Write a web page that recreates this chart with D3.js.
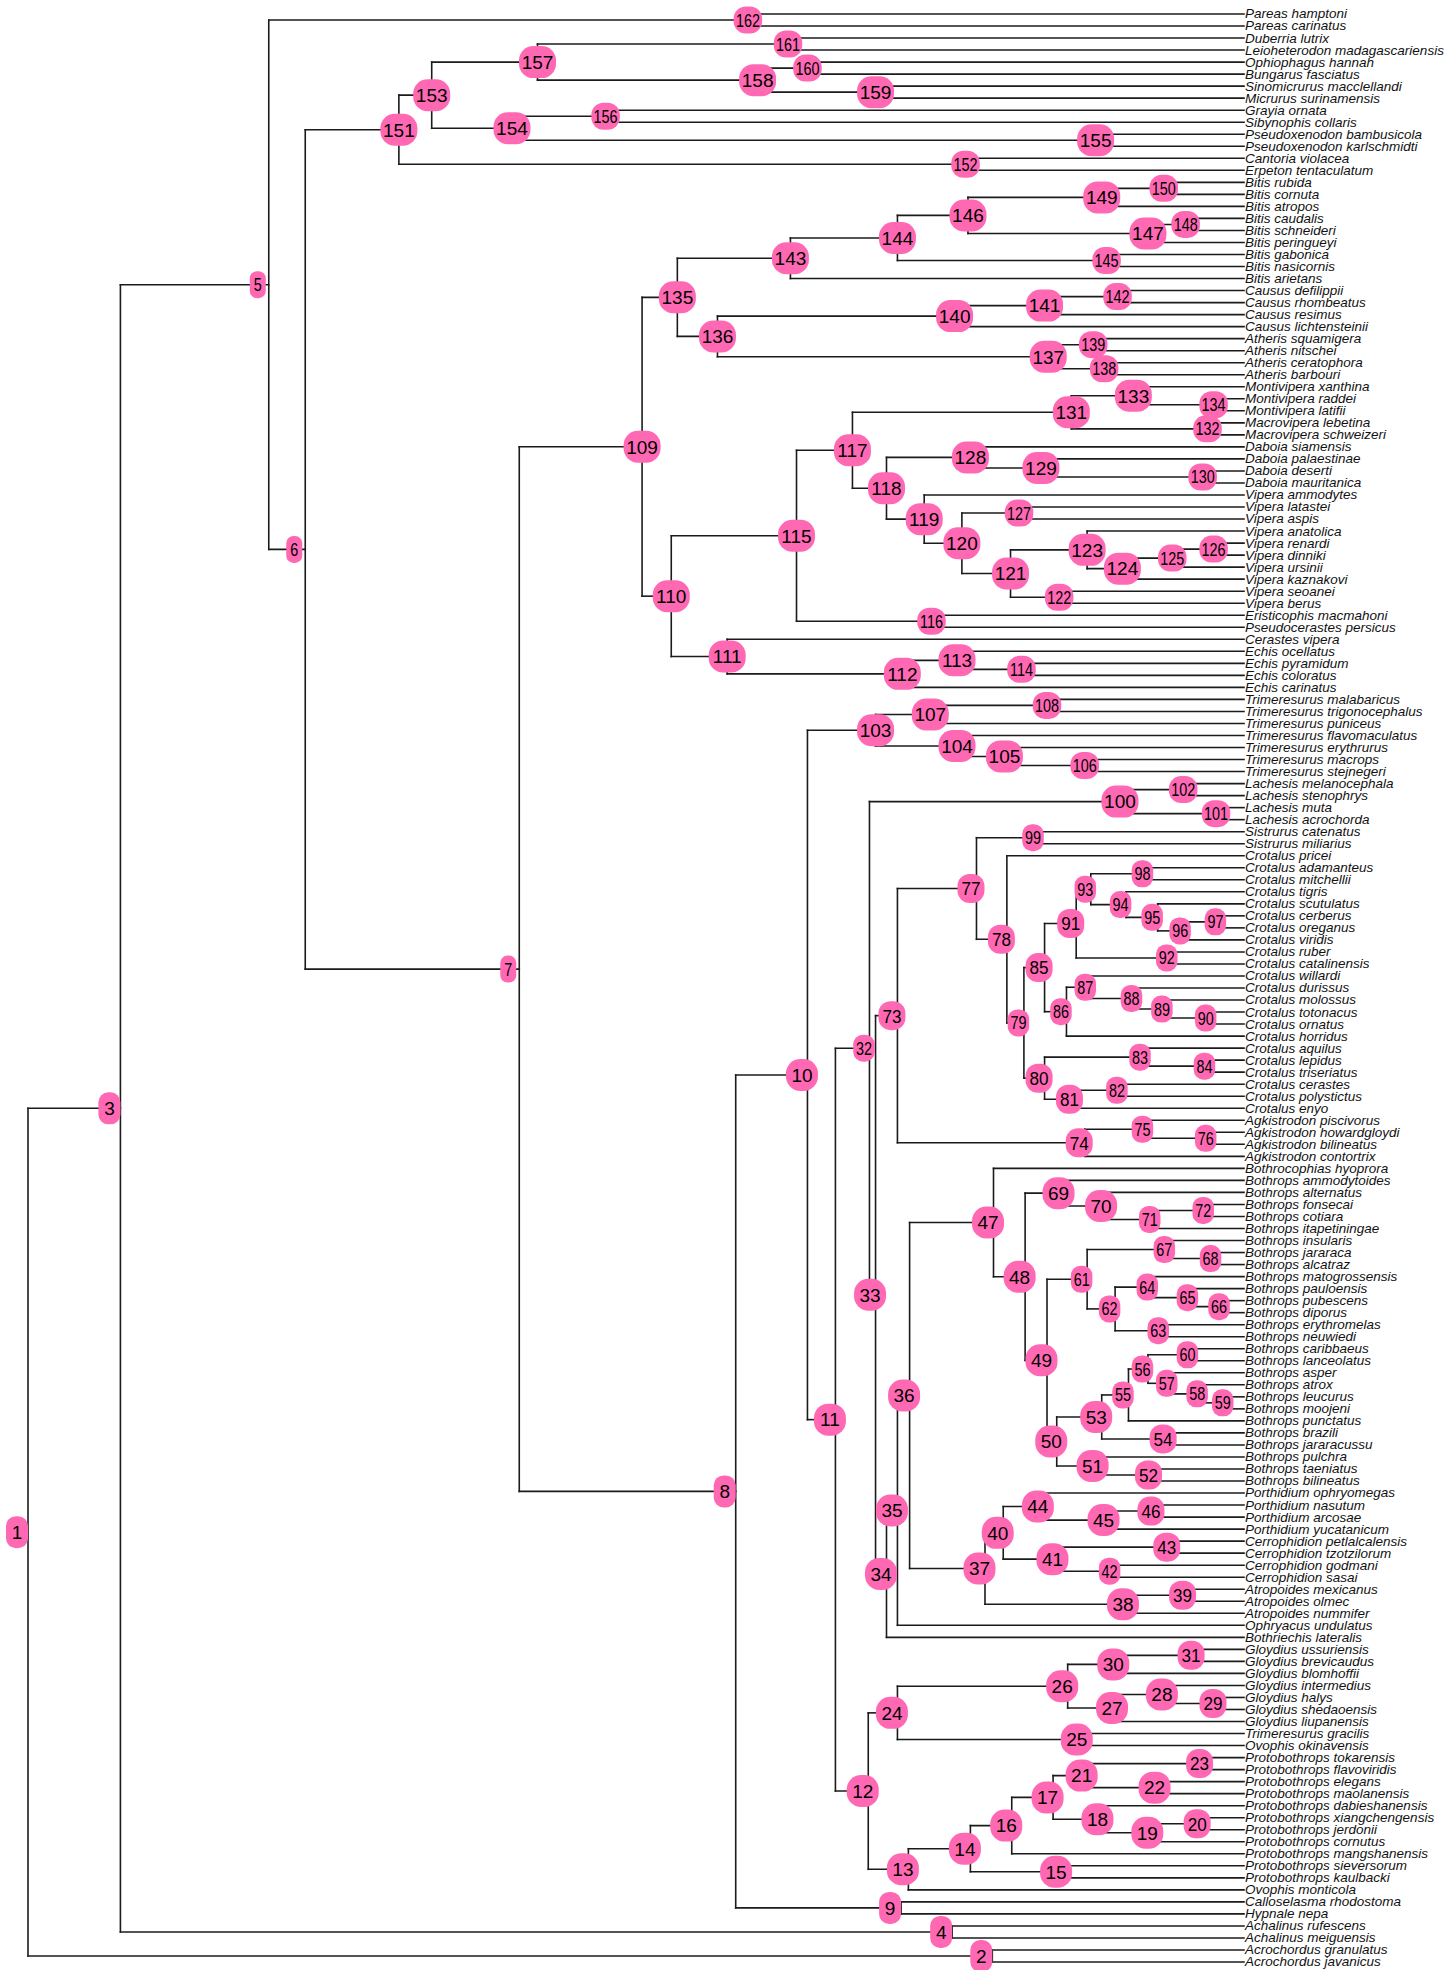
<!DOCTYPE html>
<html>
<head>
<meta charset="utf-8">
<script src="https://cdn.jsdelivr.net/npm/d3@7"></script>
<style>
  body { margin: 0; background: #ffffff; }
  svg { display: block; }
</style>
</head>
<body>
<svg id="chart" width="1444" height="1970"></svg>
<script>
// Node ages (relative time units, root = 100, tips = 0); index i holds node i+1.
const nodeAges = [
  100.0, 20.7, 92.4, 24.0, 80.2, 77.2, 59.6, 41.8, 28.2, 35.9,
  33.6, 30.9, 27.6, 22.5, 15.0, 19.1, 15.7, 11.6, 7.5, 3.4,
  12.9, 6.9, 3.2, 28.5, 13.3, 14.5, 10.4, 6.3, 2.1, 10.3,
  3.9, 30.8, 30.3, 29.4, 28.5, 27.5, 21.3, 9.5, 4.6, 19.8,
  15.3, 10.6, 5.9, 16.5, 11.1, 7.2, 20.6, 18.0, 16.2, 15.4,
  12.0, 7.4, 11.7, 6.2, 9.5, 7.9, 5.9, 3.4, 1.3, 4.2,
  12.9, 10.6, 6.6, 7.5, 4.2, 1.6, 6.1, 2.3, 14.8, 11.3,
  7.3, 2.9, 28.5, 13.1, 7.9, 2.7, 22.0, 19.5, 18.1, 16.4,
  13.9, 10.0, 8.1, 2.8, 16.4, 14.6, 12.6, 8.8, 6.3, 2.7,
  13.8, 5.9, 12.6, 9.7, 7.1, 4.8, 1.9, 7.9, 16.9, 10.2,
  2.3, 5.0, 30.3, 23.6, 19.7, 13.1, 25.8, 16.2, 49.5, 47.1,
  42.5, 28.1, 23.6, 18.3, 36.8, 25.7, 32.2, 29.4, 26.3, 23.2,
  19.2, 15.2, 12.9, 10.0, 5.9, 2.5, 18.5, 22.5, 16.7, 3.4,
  14.2, 3.0, 9.1, 2.5, 46.6, 43.3, 16.1, 11.5, 12.4, 23.8,
  16.4, 10.4, 37.3, 28.5, 11.3, 22.7, 7.9, 4.8, 11.7, 6.6,
  69.5, 22.9, 66.8, 60.2, 12.2, 52.5, 58.1, 40.0, 30.3, 35.9,
  37.5, 40.8
];

// Label size class per node (1 = small, 2 = medium, 3 = large); index i holds node i+1.
const nodeLabelSize = [
  3, 3, 3, 3, 1, 1, 1, 3, 3, 3,
  3, 3, 3, 3, 3, 3, 3, 3, 3, 2,
  3, 3, 2, 3, 3, 3, 3, 3, 2, 3,
  2, 1, 3, 3, 3, 3, 3, 3, 2, 3,
  3, 1, 2, 3, 3, 2, 3, 3, 3, 3,
  3, 2, 3, 2, 1, 1, 1, 1, 1, 1,
  1, 1, 1, 1, 1, 1, 1, 1, 3, 3,
  1, 1, 2, 2, 1, 1, 2, 2, 1, 2,
  2, 1, 1, 1, 2, 1, 1, 1, 1, 1,
  2, 1, 1, 1, 1, 1, 1, 1, 1, 3,
  1, 1, 3, 3, 3, 1, 3, 1, 3, 3,
  3, 3, 3, 1, 3, 1, 3, 3, 3, 3,
  3, 1, 3, 3, 1, 1, 1, 3, 3, 1,
  3, 1, 3, 1, 3, 3, 3, 1, 1, 3,
  3, 1, 3, 3, 1, 3, 3, 1, 3, 1,
  3, 1, 3, 3, 3, 1, 3, 3, 3, 1,
  1, 1
];

// Children of each internal node, top to bottom (numbers = internal nodes, strings = species).
const nodeChildren = [
  /* 1 */ [3, 2],
  /* 2 */ ["Acrochordus granulatus", "Acrochordus javanicus"],
  /* 3 */ [5, 4],
  /* 4 */ ["Achalinus rufescens", "Achalinus meiguensis"],
  /* 5 */ [162, 6],
  /* 6 */ [151, 7],
  /* 7 */ [109, 8],
  /* 8 */ [10, 9],
  /* 9 */ ["Calloselasma rhodostoma", "Hypnale nepa"],
  /* 10 */ [103, 11],
  /* 11 */ [32, 12],
  /* 12 */ [24, 13],
  /* 13 */ [14, "Ovophis monticola"],
  /* 14 */ [16, 15],
  /* 15 */ ["Protobothrops sieversorum", "Protobothrops kaulbacki"],
  /* 16 */ [17, "Protobothrops mangshanensis"],
  /* 17 */ [21, 18],
  /* 18 */ ["Protobothrops dabieshanensis", 19],
  /* 19 */ [20, "Protobothrops cornutus"],
  /* 20 */ ["Protobothrops xiangchengensis", "Protobothrops jerdonii"],
  /* 21 */ [23, 22],
  /* 22 */ ["Protobothrops elegans", "Protobothrops maolanensis"],
  /* 23 */ ["Protobothrops tokarensis", "Protobothrops flavoviridis"],
  /* 24 */ [26, 25],
  /* 25 */ ["Trimeresurus gracilis", "Ovophis okinavensis"],
  /* 26 */ [30, 27],
  /* 27 */ [28, "Gloydius liupanensis"],
  /* 28 */ ["Gloydius intermedius", 29],
  /* 29 */ ["Gloydius halys", "Gloydius shedaoensis"],
  /* 30 */ [31, "Gloydius blomhoffii"],
  /* 31 */ ["Gloydius ussuriensis", "Gloydius brevicaudus"],
  /* 32 */ [100, 33],
  /* 33 */ [73, 34],
  /* 34 */ [35, "Bothriechis lateralis"],
  /* 35 */ [36, "Ophryacus undulatus"],
  /* 36 */ [47, 37],
  /* 37 */ [40, 38],
  /* 38 */ [39, "Atropoides nummifer"],
  /* 39 */ ["Atropoides mexicanus", "Atropoides olmec"],
  /* 40 */ [44, 41],
  /* 41 */ [43, 42],
  /* 42 */ ["Cerrophidion godmani", "Cerrophidion sasai"],
  /* 43 */ ["Cerrophidion petlalcalensis", "Cerrophidion tzotzilorum"],
  /* 44 */ ["Porthidium ophryomegas", 45],
  /* 45 */ [46, "Porthidium yucatanicum"],
  /* 46 */ ["Porthidium nasutum", "Porthidium arcosae"],
  /* 47 */ ["Bothrocophias hyoprora", 48],
  /* 48 */ [69, 49],
  /* 49 */ [61, 50],
  /* 50 */ [53, 51],
  /* 51 */ ["Bothrops pulchra", 52],
  /* 52 */ ["Bothrops taeniatus", "Bothrops bilineatus"],
  /* 53 */ [55, 54],
  /* 54 */ ["Bothrops brazili", "Bothrops jararacussu"],
  /* 55 */ [56, "Bothrops punctatus"],
  /* 56 */ [60, 57],
  /* 57 */ ["Bothrops asper", 58],
  /* 58 */ ["Bothrops atrox", 59],
  /* 59 */ ["Bothrops leucurus", "Bothrops moojeni"],
  /* 60 */ ["Bothrops caribbaeus", "Bothrops lanceolatus"],
  /* 61 */ [67, 62],
  /* 62 */ [64, 63],
  /* 63 */ ["Bothrops erythromelas", "Bothrops neuwiedi"],
  /* 64 */ ["Bothrops matogrossensis", 65],
  /* 65 */ ["Bothrops pauloensis", 66],
  /* 66 */ ["Bothrops pubescens", "Bothrops diporus"],
  /* 67 */ ["Bothrops insularis", 68],
  /* 68 */ ["Bothrops jararaca", "Bothrops alcatraz"],
  /* 69 */ ["Bothrops ammodytoides", 70],
  /* 70 */ ["Bothrops alternatus", 71],
  /* 71 */ [72, "Bothrops itapetiningae"],
  /* 72 */ ["Bothrops fonsecai", "Bothrops cotiara"],
  /* 73 */ [77, 74],
  /* 74 */ [75, "Agkistrodon contortrix"],
  /* 75 */ ["Agkistrodon piscivorus", 76],
  /* 76 */ ["Agkistrodon howardgloydi", "Agkistrodon bilineatus"],
  /* 77 */ [99, 78],
  /* 78 */ ["Crotalus pricei", 79],
  /* 79 */ [85, 80],
  /* 80 */ [83, 81],
  /* 81 */ [82, "Crotalus enyo"],
  /* 82 */ ["Crotalus cerastes", "Crotalus polystictus"],
  /* 83 */ ["Crotalus aquilus", 84],
  /* 84 */ ["Crotalus lepidus", "Crotalus triseriatus"],
  /* 85 */ [91, 86],
  /* 86 */ [87, "Crotalus horridus"],
  /* 87 */ ["Crotalus willardi", 88],
  /* 88 */ ["Crotalus durissus", 89],
  /* 89 */ ["Crotalus molossus", 90],
  /* 90 */ ["Crotalus totonacus", "Crotalus ornatus"],
  /* 91 */ [93, 92],
  /* 92 */ ["Crotalus ruber", "Crotalus catalinensis"],
  /* 93 */ [98, 94],
  /* 94 */ ["Crotalus tigris", 95],
  /* 95 */ ["Crotalus scutulatus", 96],
  /* 96 */ [97, "Crotalus viridis"],
  /* 97 */ ["Crotalus cerberus", "Crotalus oreganus"],
  /* 98 */ ["Crotalus adamanteus", "Crotalus mitchellii"],
  /* 99 */ ["Sistrurus catenatus", "Sistrurus miliarius"],
  /* 100 */ [102, 101],
  /* 101 */ ["Lachesis muta", "Lachesis acrochorda"],
  /* 102 */ ["Lachesis melanocephala", "Lachesis stenophrys"],
  /* 103 */ [107, 104],
  /* 104 */ ["Trimeresurus flavomaculatus", 105],
  /* 105 */ ["Trimeresurus erythrurus", 106],
  /* 106 */ ["Trimeresurus macrops", "Trimeresurus stejnegeri"],
  /* 107 */ [108, "Trimeresurus puniceus"],
  /* 108 */ ["Trimeresurus malabaricus", "Trimeresurus trigonocephalus"],
  /* 109 */ [135, 110],
  /* 110 */ [115, 111],
  /* 111 */ ["Cerastes vipera", 112],
  /* 112 */ [113, "Echis carinatus"],
  /* 113 */ ["Echis ocellatus", 114],
  /* 114 */ ["Echis pyramidum", "Echis coloratus"],
  /* 115 */ [117, 116],
  /* 116 */ ["Eristicophis macmahoni", "Pseudocerastes persicus"],
  /* 117 */ [131, 118],
  /* 118 */ [128, 119],
  /* 119 */ ["Vipera ammodytes", 120],
  /* 120 */ [127, 121],
  /* 121 */ [123, 122],
  /* 122 */ ["Vipera seoanei", "Vipera berus"],
  /* 123 */ ["Vipera anatolica", 124],
  /* 124 */ [125, "Vipera kaznakovi"],
  /* 125 */ [126, "Vipera ursinii"],
  /* 126 */ ["Vipera renardi", "Vipera dinniki"],
  /* 127 */ ["Vipera latastei", "Vipera aspis"],
  /* 128 */ ["Daboia siamensis", 129],
  /* 129 */ ["Daboia palaestinae", 130],
  /* 130 */ ["Daboia deserti", "Daboia mauritanica"],
  /* 131 */ [133, 132],
  /* 132 */ ["Macrovipera lebetina", "Macrovipera schweizeri"],
  /* 133 */ ["Montivipera xanthina", 134],
  /* 134 */ ["Montivipera raddei", "Montivipera latifii"],
  /* 135 */ [143, 136],
  /* 136 */ [140, 137],
  /* 137 */ [139, 138],
  /* 138 */ ["Atheris ceratophora", "Atheris barbouri"],
  /* 139 */ ["Atheris squamigera", "Atheris nitschei"],
  /* 140 */ [141, "Causus lichtensteinii"],
  /* 141 */ [142, "Causus resimus"],
  /* 142 */ ["Causus defilippii", "Causus rhombeatus"],
  /* 143 */ [144, "Bitis arietans"],
  /* 144 */ [146, 145],
  /* 145 */ ["Bitis gabonica", "Bitis nasicornis"],
  /* 146 */ [149, 147],
  /* 147 */ [148, "Bitis peringueyi"],
  /* 148 */ ["Bitis caudalis", "Bitis schneideri"],
  /* 149 */ [150, "Bitis atropos"],
  /* 150 */ ["Bitis rubida", "Bitis cornuta"],
  /* 151 */ [153, 152],
  /* 152 */ ["Cantoria violacea", "Erpeton tentaculatum"],
  /* 153 */ [157, 154],
  /* 154 */ [156, 155],
  /* 155 */ ["Pseudoxenodon bambusicola", "Pseudoxenodon karlschmidti"],
  /* 156 */ ["Grayia ornata", "Sibynophis collaris"],
  /* 157 */ [161, 158],
  /* 158 */ [160, 159],
  /* 159 */ ["Sinomicrurus macclellandi", "Micrurus surinamensis"],
  /* 160 */ ["Ophiophagus hannah", "Bungarus fasciatus"],
  /* 161 */ ["Duberria lutrix", "Leioheterodon madagascariensis"],
  /* 162 */ ["Pareas hamptoni", "Pareas carinatus"]
];

// ---- build the hierarchy ----
function buildNode(ref) {
  if (typeof ref === "string") return { name: ref, age: 0 };
  return {
    id: ref,
    age: nodeAges[ref - 1],
    size: nodeLabelSize[ref - 1],
    children: nodeChildren[ref - 1].map(buildNode)
  };
}
const root = d3.hierarchy(buildNode(1));

// ---- geometry ----
const W = 1444, H = 1970;
const tipTop = 14, tipBottom = 1962;
const xLeft = 28, xTips = 1244;

// cluster layout: evenly spaced leaves, parents centred on their children
d3.cluster().separation(() => 1).size([1, 1])(root);
const leafPos = root.leaves().map(d => d.x);
const yScale = d3.scaleLinear()
  .domain([d3.min(leafPos), d3.max(leafPos)])
  .range([tipTop, tipBottom]);
const y = d => yScale(d.x);
const x = d3.scaleLinear().domain([100, 0]).range([xLeft, xTips]);

const svg = d3.select("#chart");
svg.append("rect").attr("width", W).attr("height", H).attr("fill", "#ffffff");

const edgeColor = "#1b1b1b";
const edgeWidth = 1.6;

const gEdges = svg.append("g")
  .attr("stroke", edgeColor)
  .attr("stroke-width", edgeWidth)
  .attr("fill", "none")
  .attr("stroke-linecap", "square");

// horizontal branches
gEdges.selectAll("line.h")
  .data(root.descendants().filter(d => d.parent))
  .join("line")
  .attr("class", "h")
  .attr("x1", d => x(d.parent.data.age))
  .attr("x2", d => x(d.data.age))
  .attr("y1", d => y(d))
  .attr("y2", d => y(d));

// vertical connectors
gEdges.selectAll("line.v")
  .data(root.descendants().filter(d => d.children))
  .join("line")
  .attr("class", "v")
  .attr("x1", d => x(d.data.age))
  .attr("x2", d => x(d.data.age))
  .attr("y1", d => y(d.children[0]))
  .attr("y2", d => y(d.children[d.children.length - 1]));

// ---- tip labels ----
svg.append("g")
  .selectAll("text")
  .data(root.leaves())
  .join("text")
  .attr("x", xTips + 1)
  .attr("y", d => y(d))
  .attr("dy", "0.33em")
  .attr("font-family", "'Liberation Sans', Arial, Helvetica, sans-serif")
  .attr("font-style", "italic")
  .attr("font-size", 13.5)
  .attr("fill", "#111")
  .text(d => d.data.name);

// ---- node number bubbles ----
const labelStyle = {
  1: { font: 18, sx: 0.8, h: 27, w: [16, 21.5, 28.5] },
  2: { font: 19, sx: 0.9, h: 29, w: [19, 27, 33] },
  3: { font: 19, sx: 1.0, h: 32, w: [22, 32, 37] }
};
const bubbleFill = "#ff69b4";

const gNodes = svg.append("g")
  .selectAll("g")
  .data(root.descendants().filter(d => d.children))
  .join("g")
  .attr("transform", d => {
    const n = String(d.data.id).length;
    // numbers sit left-aligned in a three-digit slot centred on the node
    const cx = x(d.data.age) + (n - 3) * 5.5;
    return `translate(${cx},${y(d)})`;
  });

gNodes.append("rect")
  .each(function (d) {
    const st = labelStyle[d.data.size];
    const n = String(d.data.id).length;
    const w = st.w[n - 1], h = st.h;
    const r = Math.min(w, h) * 0.45;
    d3.select(this)
      .attr("x", -w / 2).attr("y", -h / 2)
      .attr("width", w).attr("height", h)
      .attr("rx", r).attr("ry", r)
      .attr("fill", bubbleFill);
  });

gNodes.append("text")
  .attr("text-anchor", "middle")
  .attr("dy", "0.36em")
  .attr("font-family", "'Liberation Sans', Arial, Helvetica, sans-serif")
  .attr("font-size", d => labelStyle[d.data.size].font)
  .attr("transform", d => `scale(${labelStyle[d.data.size].sx},1)`)
  .attr("fill", "#000")
  .text(d => d.data.id);
</script>
</body>
</html>
